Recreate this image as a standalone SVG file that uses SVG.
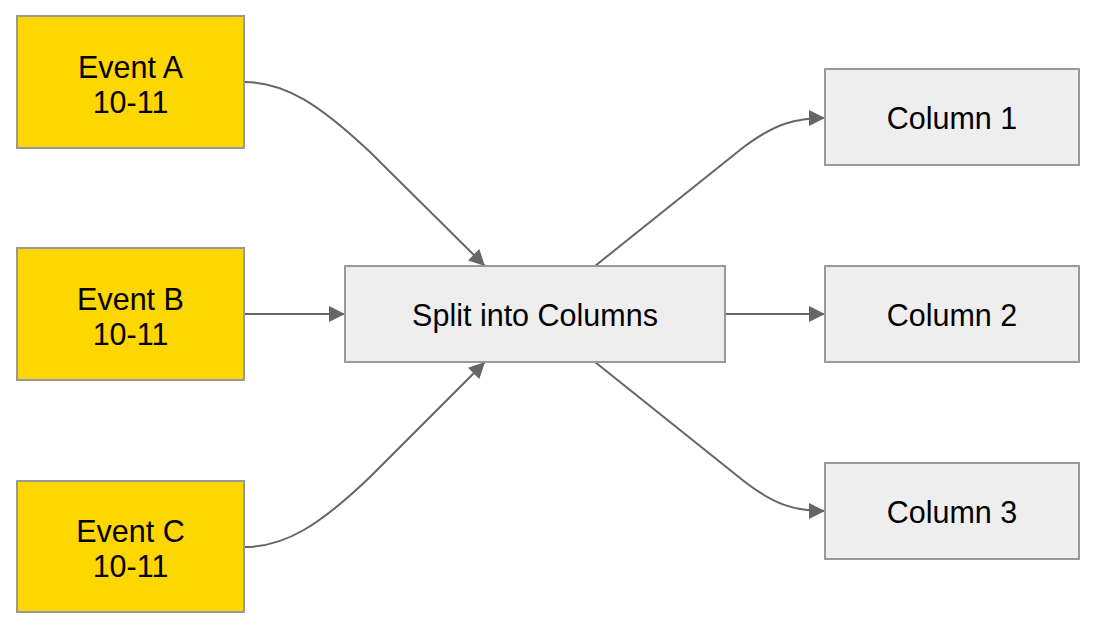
<svg xmlns="http://www.w3.org/2000/svg" width="1096" height="629" viewBox="0 0 1096 629">
<defs>
<style>
.ev{fill:#FFD700;stroke:#999;stroke-width:2}
.gr{fill:#EEEEEE;stroke:#999;stroke-width:2}
.t{font-family:"Liberation Sans",Arial,sans-serif;font-size:30.5px;fill:#000;text-anchor:middle}
.e{fill:none;stroke:#666;stroke-width:2}
</style>
<marker id="ah" viewBox="0 0 10 10" refX="10" refY="5" markerWidth="17" markerHeight="16" markerUnits="userSpaceOnUse" orient="auto">
<path d="M0,0 L10,5 L0,10 z" fill="#666"/>
</marker>
</defs>
<rect width="1096" height="629" fill="#fff"/>
<g id="edges">
<path class="e" marker-end="url(#ah)" d="M245,82 C285,82 320,105 370,152 L485,266"/>
<path class="e" marker-end="url(#ah)" d="M245,314 L345,314"/>
<path class="e" marker-end="url(#ah)" d="M245,547 C285,547 320,525 370,477 L485,362"/>
<path class="e" marker-end="url(#ah)" d="M595,266 L745,146 C775,124 795,118 825,118"/>
<path class="e" marker-end="url(#ah)" d="M725,314 L825,314"/>
<path class="e" marker-end="url(#ah)" d="M595,362 L745,482 C775,505 795,511 825,511"/>
</g>
<g id="eventA"><rect class="ev" x="17" y="16" width="227" height="132"/><text class="t" x="130.5" y="78">Event A</text><text class="t" x="130.5" y="113">10-11</text></g>
<g id="eventB"><rect class="ev" x="17" y="248" width="227" height="132"/><text class="t" x="130.5" y="310">Event B</text><text class="t" x="130.5" y="345">10-11</text></g>
<g id="eventC"><rect class="ev" x="17" y="481" width="227" height="131"/><text class="t" x="130.5" y="542">Event C</text><text class="t" x="130.5" y="577">10-11</text></g>
<g id="split"><rect class="gr" x="345" y="266" width="380" height="96"/><text class="t" x="535" y="326">Split into Columns</text></g>
<g id="col1"><rect class="gr" x="825" y="69" width="254" height="96"/><text class="t" x="952" y="129">Column 1</text></g>
<g id="col2"><rect class="gr" x="825" y="266" width="254" height="96"/><text class="t" x="952" y="326">Column 2</text></g>
<g id="col3"><rect class="gr" x="825" y="463" width="254" height="96"/><text class="t" x="952" y="523">Column 3</text></g>
</svg>
